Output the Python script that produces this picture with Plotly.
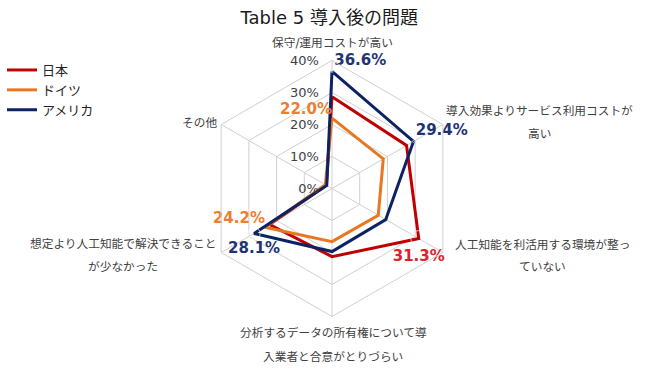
import plotly.graph_objects as go

# ---- data ----
categories = [
    "保守/運用コストが高い",
    "導入効果よりサービス利用コストが高い",
    "人工知能を利活用する環境が整っていない",
    "分析するデータの所有権について導入業者と合意がとりづらい",
    "想定より人工知能で解決できることが少なかった",
    "その他",
]
category_lines = [
    ["保守/運用コストが高い"],
    ["導入効果よりサービス利用コストが", "高い"],
    ["人工知能を利活用する環境が整っ", "ていない"],
    ["分析するデータの所有権について導", "入業者と合意がとりづらい"],
    ["想定より人工知能で解決できること", "が少なかった"],
    ["その他"],
]
series_names = ["日本", "ドイツ", "アメリカ"]
japan = [28.7, 26.9, 31.3, 21.3, 22.5, 2.0]
germany = [22.0, 18.5, 16.7, 16.6, 24.2, 2.4]
usa = [36.6, 29.4, 19.4, 19.7, 28.1, 1.9]
# which values are labelled (index per series) and where
japan_labels = {2: ("bottom center", 16)}
germany_labels = {0: ("top left", 0), 4: ("top left", 0)}
usa_labels = {0: ("top right", 2), 1: ("top right", 2), 4: ("bottom center", 12)}
radial_ticks = [0, 10, 20, 30, 40]

line_colors = ["#C00000", "#E87722", "#0B2365"]
label_colors = ["#E0202A", "#ED7D31", "#1F3374"]

FONT = "'DejaVu Sans', 'Noto Sans CJK JP', sans-serif"

fig = go.Figure()
all_series = [japan, germany, usa]
all_labels = [japan_labels, germany_labels, usa_labels]
for name, vals, lc in zip(series_names, all_series, line_colors):
    fig.add_trace(go.Scatterpolar(
        r=vals + [vals[0]],
        theta=categories + [categories[0]],
        mode="lines",
        name=name,
        line=dict(color=lc, width=3),
    ))

for name, vals, labs, tc in zip(series_names, all_series, all_labels, label_colors):
    idx = sorted(labs)
    fig.add_trace(go.Scatterpolar(
        r=[vals[i] for i in idx],
        theta=[categories[i] for i in idx],
        mode="markers+text",
        text=[f"{vals[i]:.1f}%" for i in idx],
        textposition=[labs[i][0] for i in idx],
        marker=dict(size=[labs[i][1] for i in idx], color="rgba(0,0,0,0)"),
        textfont=dict(color=tc, size=15, family=FONT, weight="bold"),
        showlegend=False,
        hoverinfo="skip",
        cliponaxis=False,
    ))

cx, cy, R = 332, 188.5, 128
W, H = 665, 392
fig.update_layout(
    width=W, height=H,
    margin=dict(l=0, r=0, t=0, b=0),
    paper_bgcolor="white",
    font=dict(family=FONT, color="#404040", size=12),
    title=dict(text="Table 5 導入後の問題", x=0.495, xanchor="center",
               y=1 - 18 / H, yanchor="middle",
               font=dict(size=18, color="#1a1a1a", family=FONT)),
    polar=dict(
        domain=dict(x=[(cx - R) / W, (cx + R) / W], y=[(H - cy - R) / H, (H - cy + R) / H]),
        gridshape="linear",
        bgcolor="white",
        radialaxis=dict(
            range=[0, 40], tickvals=radial_ticks,
            ticktext=[f"{v}%" for v in radial_ticks],
            angle=90, tickangle=90, side="counterclockwise",
            ticks="outside", ticklen=8, tickcolor="rgba(0,0,0,0)",
            showline=False, gridcolor="#D0D0D0", gridwidth=1,
            tickfont=dict(size=13, color="#404040", family=FONT),
        ),
        angularaxis=dict(
            rotation=90, direction="clockwise",
            showticklabels=False, ticks="",
            gridcolor="#D0D0D0", linecolor="#D0D0D0", showline=True,
        ),
    ),
    legend=dict(x=0.003, y=1 - 55 / H, xanchor="left", yanchor="top",
                font=dict(size=13, color="#262626", family=FONT),
                tracegroupgap=0, itemwidth=30),
)

# category labels
label_pos = [
    (332, [43]),
    (539, [111.5, 133.5]),
    (542, [245, 267]),
    (333, [333, 356.5]),
    (123, [243.5, 267]),
    (199, [123.5]),
]
for lines, (px, pys) in zip(category_lines, label_pos):
    for txt, py in zip(lines, pys):
        fig.add_annotation(text=txt, x=px / W, y=1 - py / H, xref="paper", yref="paper",
                           xanchor="center", yanchor="middle", showarrow=False,
                           font=dict(size=11.7, color="#404040", family=FONT))

fig.write_html("out.html", config={"displayModeBar": False},
               post_script="document.body.style.margin='0px';")
